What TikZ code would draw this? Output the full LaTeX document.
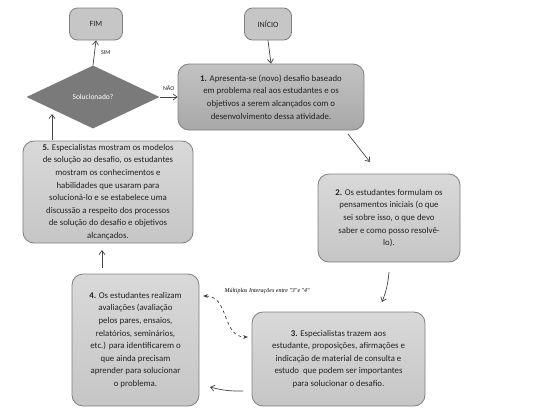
\documentclass[tikz,border=0pt]{standalone}
\usepackage{fontspec}
\setmainfont{Carlito}
\newfontfamily\notefont{Liberation Serif}
\usetikzlibrary{positioning,calc,arrows.meta,shapes.geometric}

\definecolor{boxline}{HTML}{7F7F7F}
\definecolor{boxtext}{HTML}{222222}
\definecolor{arrowgray}{HTML}{444444}
\definecolor{decfill}{HTML}{7A7A7A}

\begin{document}
\begin{tikzpicture}[
    x=1pt, y=-1pt,
    stepbox/.style={draw=boxline, line width=0.8pt, rounded corners=11pt,
                    top color=gray!30, bottom color=gray!45, text=boxtext,
                    font=\fontsize{8.8}{12.6}\selectfont, align=center, inner sep=0pt},
    endbox/.style={draw=boxline, line width=0.8pt, rounded corners=8pt,
                   fill=gray!45, text=boxtext, font=\fontsize{8}{10}\selectfont,
                   inner sep=0pt},
    decision/.style={diamond, fill=decfill, draw=none, text=white,
                     font=\fontsize{7.5}{9}\selectfont, inner sep=0pt,
                     minimum width=133pt, minimum height=63pt},
    flow/.style={-{Straight Barb[length=4pt,width=6pt]}, arrowgray, line width=0.7pt},
    loopline/.style={{Stealth[length=5pt]}-{Stealth[length=5pt]}, dashed, black!75, line width=0.7pt},
    flowlabel/.style={font=\fontsize{6}{7}\selectfont, text=boxtext}
]
\useasboundingbox (0,0) rectangle (546,416);

% Start and end
\node[endbox, minimum width=53pt, minimum height=32pt] (fim) at (96,24) {FIM};
\node[endbox, minimum width=47pt, minimum height=32pt] (inicio) at (268,24) {INÍCIO};

% Decision
\node[decision] (sol) at (93,97) {Solucionado?};

% Steps of the cycle
\node[stepbox, top color=gray!48, bottom color=gray!68,
      minimum width=186pt, minimum height=66pt] (passo1) at (271,97)
  {\textbf{1.} Apresenta-se (novo) desafio baseado\\
   em problema real aos estudantes e os\\
   objetivos a serem alcançados com o\\
   desenvolvimento dessa atividade.};

\node[stepbox, minimum width=142pt, minimum height=88pt] (passo2) at (389,218)
  {\textbf{2.} Os estudantes formulam os\\
   pensamentos iniciais (o que\\
   sei sobre isso, o que devo\\
   saber e como posso resolvê-\\
   lo).};

\node[stepbox, minimum width=173pt, minimum height=94pt] (passo3) at (338.5,359)
  {\textbf{3.} Especialistas trazem aos\\
   estudante, proposições, afirmações e\\
   indicação de material de consulta e\\
   estudo \ que podem ser importantes\\
   para solucionar o desafio.};

\node[stepbox, minimum width=127pt, minimum height=132pt] (passo4) at (135.5,340)
  {\textbf{4.} Os estudantes realizam\\
   avaliações (avaliação\\
   pelos pares, ensaios,\\
   relatórios, seminários,\\
   etc.) para identificarem o\\
   que ainda precisam\\
   aprender para solucionar\\
   o problema.};

\node[stepbox, minimum width=170pt, minimum height=102pt] (passo5) at (108,192)
  {\textbf{5.} Especialistas mostram os modelos\\
   de solução ao desafio, os estudantes\\
   mostram os conhecimentos e\\
   habilidades que usaram para\\
   solucioná-lo e se estabelece uma\\
   discussão a respeito dos processos\\
   de solução do desafio e objetivos\\
   alcançados.};

% Free ends of the short arrows between the steps
\coordinate (a12s) at (348,134);
\coordinate (a12e) at (370,162);
\coordinate (a23s) at (389,272);
\coordinate (a23e) at (382,302);
\coordinate (a34s) at (243,391);
\coordinate (a34e) at (210,387);
\coordinate (a45s) at (102,268);
\coordinate (a45e) at (102,250);
\coordinate (a5ds) at (52,140);
\coordinate (a5de) at (52,114);

% Connectors
\draw[flow] (inicio.south) -- (passo1.north);
\draw[flow] (sol.north) -- node[flowlabel, right=3pt] {SIM} (fim.south);
\draw[flow] (sol.east) -- node[flowlabel, above=3pt] {NÃO} (passo1.west);
\draw[flow] (a12s) -- (a12e);
\draw[flow] (a23s) to[bend left=8] (a23e);
\draw[flow] (a34s) to[bend left=8] (a34e);
\draw[flow] (a45s) -- (a45e);
\draw[flow] (a5ds) -- (a5de);

% Back and forth between 3 and 4
\coordinate (loop4) at (203,296);
\coordinate (loop3) at (248,337);
\draw[loopline] (loop4) to[out=0, in=180, looseness=1.1] (loop3);
\node[font=\notefont\itshape\fontsize{6}{7}\selectfont, anchor=west] (nota) at (221,291)
  {Múltiplas Interações entre "3"e "4"};

\end{tikzpicture}
\end{document}
